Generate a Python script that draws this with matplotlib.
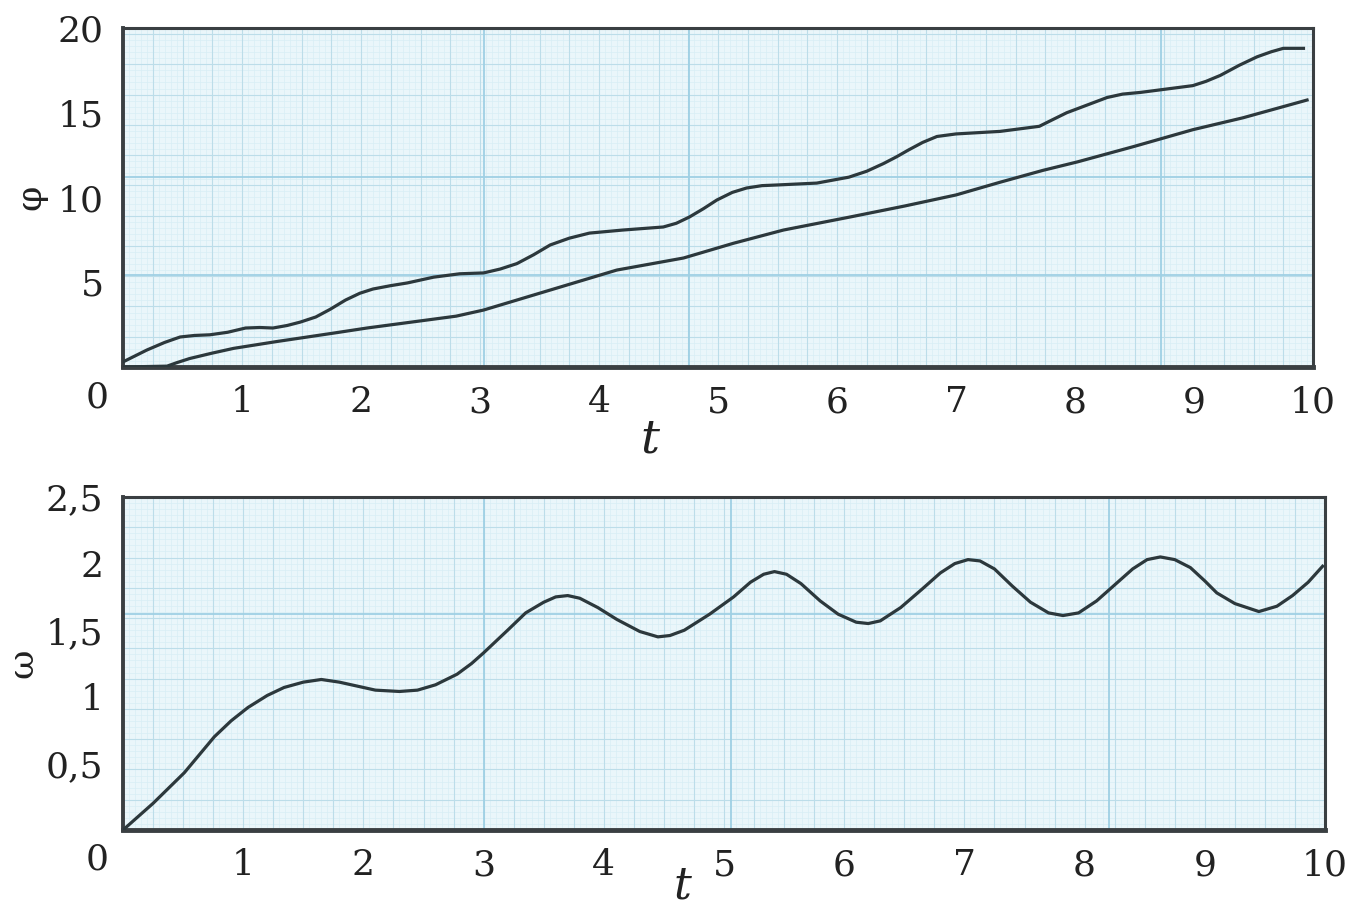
import numpy as np
import matplotlib
matplotlib.use("Agg")
import matplotlib.pyplot as plt
from matplotlib.collections import LineCollection

# phi(t), upper curve
t_phi1 = [0.0, 0.2, 0.35, 0.48, 0.6, 0.73, 0.88, 1.03, 1.15, 1.26, 1.38, 1.49, 1.62,
          1.74, 1.87, 1.99, 2.1, 2.25, 2.39, 2.61, 2.83, 3.03, 3.17, 3.31, 3.45, 3.59,
          3.75, 3.92, 4.2, 4.54, 4.65, 4.76, 4.88, 4.99, 5.12, 5.24, 5.37, 5.5, 5.83,
          6.1, 6.25, 6.39, 6.5, 6.6, 6.72, 6.84, 7.0, 7.37, 7.7, 7.8, 7.93, 8.1, 8.27,
          8.4, 8.55, 8.99, 9.1, 9.22, 9.38, 9.53, 9.65, 9.75, 9.92]
phi1 = [0.3, 1.0, 1.45, 1.77, 1.86, 1.9, 2.05, 2.3, 2.33, 2.3, 2.45, 2.65, 2.95,
        3.4, 3.95, 4.35, 4.6, 4.8, 4.96, 5.3, 5.5, 5.55, 5.78, 6.1, 6.62, 7.2,
        7.6, 7.9, 8.08, 8.26, 8.48, 8.85, 9.35, 9.85, 10.3, 10.56, 10.7, 10.74, 10.85,
        11.2, 11.55, 12.0, 12.4, 12.8, 13.25, 13.6, 13.75, 13.9, 14.2, 14.55, 15.0, 15.45, 15.9,
        16.1, 16.2, 16.6, 16.85, 17.2, 17.8, 18.3, 18.6, 18.8, 18.8]

# phi(t), lower curve
t_phi2 = [0.0, 0.37, 0.45, 0.56, 0.75, 0.93, 1.29, 1.77, 2.05, 2.8, 3.03, 3.59, 4.15, 4.71, 5.13,
          5.55, 6.11, 6.57, 7.0, 7.37, 7.73, 8.02, 8.49, 8.99, 9.41, 9.95]
phi2 = [0.0, 0.05, 0.25, 0.5, 0.82, 1.1, 1.5, 2.0, 2.3, 3.0, 3.36, 4.54, 5.72, 6.43, 7.3,
        8.08, 8.85, 9.5, 10.15, 10.9, 11.6, 12.1, 13.0, 14.0, 14.7, 15.75]

# omega(t)
t_om = [0.0, 0.25, 0.51, 0.76, 0.9, 1.04, 1.2, 1.34, 1.5, 1.65, 1.8, 1.95, 2.1, 2.3,
        2.45, 2.6, 2.78, 2.9, 3.0, 3.2, 3.35, 3.5, 3.6, 3.7, 3.8, 3.95, 4.11, 4.3,
        4.45, 4.55, 4.67, 4.88, 5.08, 5.22, 5.33, 5.42, 5.52, 5.64, 5.8, 5.95, 6.1,
        6.2, 6.3, 6.47, 6.65, 6.8, 6.92, 7.03, 7.13, 7.25, 7.4, 7.55, 7.7, 7.82, 7.95,
        8.1, 8.25, 8.4, 8.52, 8.63, 8.75, 8.88, 9.0, 9.1, 9.25, 9.45, 9.6, 9.73, 9.86,
        9.98]
omega = [0.0, 0.2, 0.43, 0.7, 0.82, 0.92, 1.01, 1.07, 1.11, 1.13, 1.11, 1.08, 1.05, 1.04,
         1.05, 1.09, 1.17, 1.25, 1.33, 1.5, 1.63, 1.71, 1.75, 1.76, 1.74, 1.67, 1.58, 1.49,
         1.45, 1.46, 1.5, 1.62, 1.75, 1.86, 1.92, 1.94, 1.92, 1.85, 1.72, 1.62, 1.56,
         1.55, 1.57, 1.67, 1.81, 1.93, 2.0, 2.03, 2.02, 1.96, 1.83, 1.71, 1.63, 1.61, 1.63,
         1.72, 1.84, 1.96, 2.03, 2.05, 2.03, 1.97, 1.87, 1.78, 1.7, 1.64, 1.68, 1.76, 1.86,
         1.98]

x_ticks = [1, 2, 3, 4, 5, 6, 7, 8, 9, 10]
phi_ticks = [5, 10, 15, 20]
om_ticks = [0.5, 1, 1.5, 2, 2.5]
om_labels = ["0,5", "1", "1,5", "2", "2,5"]

FONT = "DejaVu Serif"
plt.rcParams["font.family"] = FONT
LINE = "#2c383c"
TXT = "#222"
FS = 26


def paper(ax, nx, ny, strong_x, strong_y):
    # graph paper look
    ax.set_facecolor("#eaf6fa")
    fine, mid = [], []
    for i in range(1, nx):
        seg = [(i / nx, 0), (i / nx, 1)]
        (mid if i % 5 == 0 else fine).append(seg)
    for j in range(1, ny):
        seg = [(0, j / ny), (1, j / ny)]
        (mid if j % 5 == 0 else fine).append(seg)
    ax.add_collection(LineCollection(fine, colors="#d8eef5", linewidths=0.5,
                                     transform=ax.transAxes, zorder=0))
    ax.add_collection(LineCollection(mid, colors="#bcdde9", linewidths=0.8,
                                     transform=ax.transAxes, zorder=0))
    strong = [[(x, 0), (x, 1)] for x in strong_x] + [[(0, y), (1, y)] for y in strong_y]
    ax.add_collection(LineCollection(strong, colors="#9fd0e4", linewidths=1.3,
                                     transform=ax.transAxes, zorder=0))


def frame(ax):
    for s in ax.spines.values():
        s.set_color("#3a3f42")
        s.set_linewidth(2.2)
    ax.spines["bottom"].set_linewidth(3.5)
    ax.spines["left"].set_linewidth(2.8)
    ax.tick_params(length=0, labelsize=FS, colors=TXT)
    ax.tick_params(axis="x", pad=13)
    ax.tick_params(axis="y", pad=14)


fig = plt.figure(figsize=(13.72, 9.06), dpi=100)

ax1 = fig.add_axes([123 / 1372, 1 - 367 / 906, 1190 / 1372, 339 / 906])
paper(ax1, 200, 56, [0.303, 0.476, 0.872], [0.27, 0.56])
ax1.plot(t_phi1, phi1, color=LINE, lw=2.3, zorder=3)
ax1.plot(t_phi2, phi2, color=LINE, lw=2.3, zorder=3)
ax1.set_xlim(0, 10)
ax1.set_ylim(0, 20)
ax1.set_xticks(x_ticks)
ax1.set_yticks(phi_ticks)
frame(ax1)
ax1.annotate("0", xy=(0, 0), xycoords="data", xytext=(-26, -30),
             textcoords="offset pixels", ha="center", va="center", fontsize=FS,
             color=TXT, annotation_clip=False)
fig.text(650 / 1372, 1 - 440 / 906, "t", fontsize=34, style="italic",
         ha="center", va="center", color=TXT)
fig.text(30 / 1372, 1 - 197 / 906, "φ", fontsize=26, rotation=90,
         ha="center", va="center", color=TXT)

ax2 = fig.add_axes([123 / 1372, 1 - 830 / 906, 1202 / 1372, 333 / 906])
paper(ax2, 200, 55, [0.3, 0.506, 0.82], [0.65])
ax2.plot(t_om, omega, color=LINE, lw=2.3, zorder=3)
ax2.set_xlim(0, 10)
ax2.set_ylim(0, 2.5)
ax2.set_xticks(x_ticks)
ax2.set_yticks(om_ticks)
ax2.set_yticklabels(om_labels)
frame(ax2)
ax2.annotate("0", xy=(0, 0), xycoords="data", xytext=(-26, -30),
             textcoords="offset pixels", ha="center", va="center", fontsize=FS,
             color=TXT, annotation_clip=False)
fig.text(683 / 1372, 1 - 886 / 906, "t", fontsize=32, style="italic",
         ha="center", va="center", color=TXT)
fig.text(22 / 1372, 1 - 663 / 906, "ω", fontsize=26, rotation=90,
         ha="center", va="center", color=TXT)

fig.savefig("out.png", dpi=100)
